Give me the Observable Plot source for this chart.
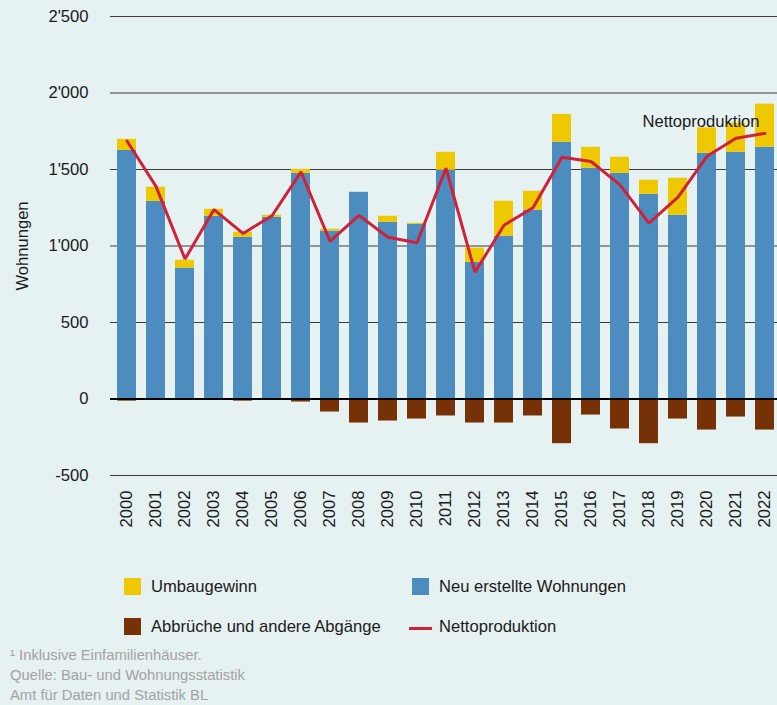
<!DOCTYPE html>
<html>
<head>
<meta charset="utf-8">
<script src="https://cdn.jsdelivr.net/npm/d3@7"></script>
<script src="https://cdn.jsdelivr.net/npm/@observablehq/plot@0.6"></script>
<style>
  html, body { margin: 0; padding: 0; background: #E6F1F1; }
  body { width: 777px; height: 705px; position: relative; overflow: hidden; font-family: "Liberation Sans", Arial, sans-serif; }
  #chart { position: absolute; left: 0; top: 0; }
  .lg { position: absolute; font-size: 16.6px; color: #1a1a1a; white-space: nowrap; }
  .sw { position: absolute; width: 17px; height: 17px; }
  .ln { position: absolute; width: 23px; height: 3px; background: #D0213A; }
  .foot { position: absolute; left: 10px; font-size: 14.8px; color: #A3A3A3; white-space: nowrap; }
</style>
</head>
<body>
<div id="chart"></div>

<div class="sw" style="left:124px;top:578px;background:#EEC800"></div>
<div class="lg" style="left:151px;top:577px">Umbaugewinn</div>
<div class="sw" style="left:412px;top:578px;background:#4D8CBE"></div>
<div class="lg" style="left:439px;top:577px">Neu erstellte Wohnungen</div>
<div class="sw" style="left:124px;top:618px;background:#763106"></div>
<div class="lg" style="left:151px;top:617px">Abbrüche und andere Abgänge</div>
<div class="ln" style="left:409px;top:627px"></div>
<div class="lg" style="left:439px;top:617px">Nettoproduktion</div>

<div class="foot" style="top:647px">¹ Inklusive Einfamilienhäuser.</div>
<div class="foot" style="top:667px">Quelle: Bau- und Wohnungsstatistik</div>
<div class="foot" style="top:687px">Amt für Daten und Statistik BL</div>

<script>
const years = ["2000","2001","2002","2003","2004","2005","2006","2007","2008","2009","2010","2011","2012","2013","2014","2015","2016","2017","2018","2019","2020","2021","2022"];
const neu = [1625, 1292, 855, 1194, 1057, 1188, 1475, 1097, 1351, 1155, 1142, 1495, 894, 1064, 1234, 1678, 1508, 1475, 1338, 1201, 1606, 1612, 1645];
const umbau = [72, 92, 52, 46, 33, 13, 26, 13, 0, 39, 7, 117, 92, 228, 124, 182, 137, 105, 92, 242, 166, 191, 282];
const abbruch = [-14, 0, 0, 0, -14, 0, -20, -85, -157, -144, -131, -111, -157, -157, -111, -292, -105, -196, -292, -131, -203, -118, -203];
const netto = [1686, 1390, 915, 1238, 1082, 1198, 1484, 1031, 1200, 1057, 1021, 1508, 829, 1136, 1250, 1580, 1552, 1400, 1149, 1319, 1586, 1704, 1736];
const yTicks = [-500, 0, 500, 1000, 1500, 2000, 2500];
const annotationText = ["Nettoproduktion"];
const annotationYear = ["2020"];
const annotationValue = [1815];

const data = years.map((y, i) => ({
  year: y, neu: neu[i], top: neu[i] + umbau[i], abbruch: abbruch[i], netto: netto[i]
}));
const notes = annotationText.map((t, i) => ({text: t, year: annotationYear[i], value: annotationValue[i]}));

const fmt = v => d3.format(",")(v).replace(/,/g, "'").replace("\u2212", "-");

const chart = Plot.plot({
  width: 777,
  height: 545,
  marginTop: 16,
  marginLeft: 110,
  marginRight: 0,
  marginBottom: 70,
  style: {background: "transparent", fontFamily: "'Liberation Sans', Arial, sans-serif", fontSize: "16.6px", color: "#1a1a1a"},
  x: {type: "band", domain: years, range: [110, 780], paddingInner: 0.35, paddingOuter: 0.175, label: null},
  y: {domain: [-500, 2500], ticks: yTicks, label: null},
  marks: [
    Plot.gridY(yTicks, {stroke: "#3a3a3a", strokeOpacity: 1, strokeWidth: 1}),
    Plot.barY(data, {x: "year", y1: 0, y2: "neu", fill: "#4D8CBE", inset: 0}),
    Plot.barY(data, {x: "year", y1: "neu", y2: "top", fill: "#EEC800", inset: 0}),
    Plot.barY(data, {x: "year", y1: 0, y2: "abbruch", fill: "#763106", inset: 0}),
    Plot.ruleY([0], {stroke: "#000", strokeWidth: 2}),
    Plot.line(data, {x: "year", y: "netto", stroke: "#D0213A", strokeWidth: 3, strokeLinejoin: "miter"}),
    Plot.text(notes, {x: "year", y: "value", text: "text", dx: -6, fill: "#1a1a1a", fontSize: 16.6, lineAnchor: "middle", textAnchor: "middle"}),
    Plot.axisY(yTicks, {tickSize: 0, tickPadding: 22, tickFormat: fmt, fontSize: 16.6, label: "Wohnungen", labelAnchor: "center", labelOffset: 94, labelArrow: "none"}),
    Plot.axisX(years, {tickSize: 0, tickPadding: 15, tickRotate: -90, fontSize: 16.6, label: null})
  ]
});
document.getElementById("chart").appendChild(chart);
</script>
</body>
</html>
